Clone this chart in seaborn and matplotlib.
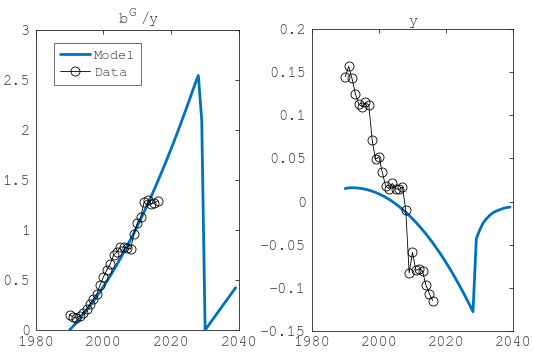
import numpy as np
import pandas as pd
import matplotlib
matplotlib.use("Agg")
import matplotlib.pyplot as plt
import seaborn as sns
from matplotlib.ticker import FixedLocator, FuncFormatter

# ---------------- data ----------------
data_years = list(range(1990, 2017))
bgy_data = [0.155, 0.13, 0.12, 0.14, 0.17, 0.21, 0.26, 0.31, 0.36, 0.45,
            0.53, 0.60, 0.66, 0.75, 0.78, 0.83, 0.83, 0.82, 0.81, 0.96,
            1.07, 1.13, 1.28, 1.30, 1.26, 1.27, 1.29]
y_data = [0.145, 0.157, 0.143, 0.125, 0.113, 0.110, 0.115, 0.112, 0.071, 0.049,
          0.052, 0.034, 0.018, 0.015, 0.021, 0.015, 0.014, 0.017, -0.010, -0.083,
          -0.059, -0.080, -0.078, -0.081, -0.097, -0.107, -0.115]

model_years = list(range(1990, 2040))
bgy_model = [0.0, 0.036, 0.073, 0.113, 0.154, 0.196, 0.241, 0.287, 0.334, 0.384,
             0.435, 0.488, 0.542, 0.599, 0.657, 0.716, 0.778, 0.841, 0.905, 0.972,
             1.04, 1.11, 1.181, 1.255, 1.33, 1.406, 1.485, 1.565, 1.646, 1.73,
             1.815, 1.902, 1.99, 2.081, 2.173, 2.266, 2.362, 2.459, 2.545,
             2.1, 0.0, 0.047, 0.094, 0.141, 0.188, 0.235, 0.282, 0.329, 0.376, 0.423]
y_model = [0.0150, 0.0159, 0.0160, 0.0159, 0.0156, 0.0150, 0.0142, 0.0132, 0.0120, 0.0106,
           0.0089, 0.0070, 0.0049, 0.0026, 0.0000, -0.0028, -0.0058, -0.0090, -0.0124, -0.0161,
           -0.0200, -0.0241, -0.0284, -0.0330, -0.0377, -0.0427, -0.0479, -0.0534, -0.0590, -0.0649,
           -0.0710, -0.0773, -0.0839, -0.0907, -0.0977, -0.1049, -0.1124, -0.1200, -0.1279,
           -0.043, -0.033, -0.025, -0.020, -0.016, -0.013, -0.011, -0.0095, -0.008, -0.007, -0.0065]

x_ticks = [1980, 2000, 2020, 2040]
left_yticks = [0, 0.5, 1, 1.5, 2, 2.5, 3]
right_yticks = [-0.15, -0.1, -0.05, 0, 0.05, 0.1, 0.15, 0.2]
legend_labels = ["Model", "Data"]

# ---------------- style ----------------
sns.set_style("white")
fam = ["FreeMono", "Courier Prime", "Liberation Mono", "DejaVu Sans Mono"]
plt.rcParams["font.family"] = fam
plt.rcParams["axes.unicode_minus"] = False

blue = "#0072BD"
grey_txt = "#303030"
grey_ax = "#262626"

fig = plt.figure(figsize=(5.33, 3.55), dpi=100)
ax1 = fig.add_axes([35.7 / 533, 25 / 355, 203.3 / 533, 300 / 355])
ax2 = fig.add_axes([311.7 / 533, 24.3 / 355, 201.6 / 533, 301.4 / 355])

df_model = pd.DataFrame({"year": model_years, "bgy": bgy_model, "y": y_model})
df_data = pd.DataFrame({"year": data_years, "bgy": bgy_data, "y": y_data})

for ax, col, ylim, yticks in [
    (ax1, "bgy", (0, 3), left_yticks),
    (ax2, "y", (-0.15, 0.2), right_yticks),
]:
    sns.lineplot(data=df_model, x="year", y=col, ax=ax, color=blue, linewidth=2.0,
                 label=legend_labels[0], sort=False)
    sns.lineplot(data=df_data, x="year", y=col, ax=ax, color="black", linewidth=0.6,
                 marker="o", markersize=6.5, markerfacecolor="none",
                 markeredgecolor="black", markeredgewidth=0.6,
                 label=legend_labels[1], sort=False)
    ax.set_xlim(1980, 2040)
    ax.set_ylim(*ylim)
    ax.xaxis.set_major_locator(FixedLocator(x_ticks))
    ax.yaxis.set_major_locator(FixedLocator(yticks))
    ax.yaxis.set_major_formatter(FuncFormatter(lambda v, p: "%g" % v))
    ax.set_xlabel("")
    ax.set_ylabel("")
    ax.tick_params(direction="in", length=3, width=0.6, colors=grey_ax,
                   labelcolor=grey_txt, labelsize=11, top=True, right=True,
                   pad=4)
    for s in ax.spines.values():
        s.set_color(grey_ax)
        s.set_linewidth(0.6)
        s.set_visible(True)

# title "b^G/y": three pieces so the raised G sits between b and /y
ax1.annotate("b", xy=(0.5, 1.015), xycoords="axes fraction", xytext=(-10.5, 0),
             textcoords="offset points", ha="center", va="bottom",
             fontsize=11, color=grey_txt, family=fam)
ax1.annotate("G", xy=(0.5, 1.015), xycoords="axes fraction", xytext=(-4.2, 4.5),
             textcoords="offset points", ha="center", va="bottom",
             fontsize=9, color=grey_txt, family=fam)
ax1.annotate("/y", xy=(0.5, 1.015), xycoords="axes fraction", xytext=(1.8, 0),
             textcoords="offset points", ha="left", va="bottom",
             fontsize=11, color=grey_txt, family=fam)
ax2.set_title("y", fontsize=11, color=grey_txt, pad=3)

leg = ax1.legend(loc="upper left", bbox_to_anchor=(0.0915, 0.9557), fontsize=10,
                 frameon=True, fancybox=False, handlelength=2.15,
                 borderpad=0.4, labelspacing=0.35, handletextpad=0.3,
                 borderaxespad=0)
leg.get_frame().set_edgecolor("#555555")
leg.get_frame().set_linewidth(0.6)
leg.get_frame().set_alpha(1)
for t in leg.get_texts():
    t.set_color(grey_txt)
ax2.get_legend().remove()

fig.savefig("out.png", dpi=100)
